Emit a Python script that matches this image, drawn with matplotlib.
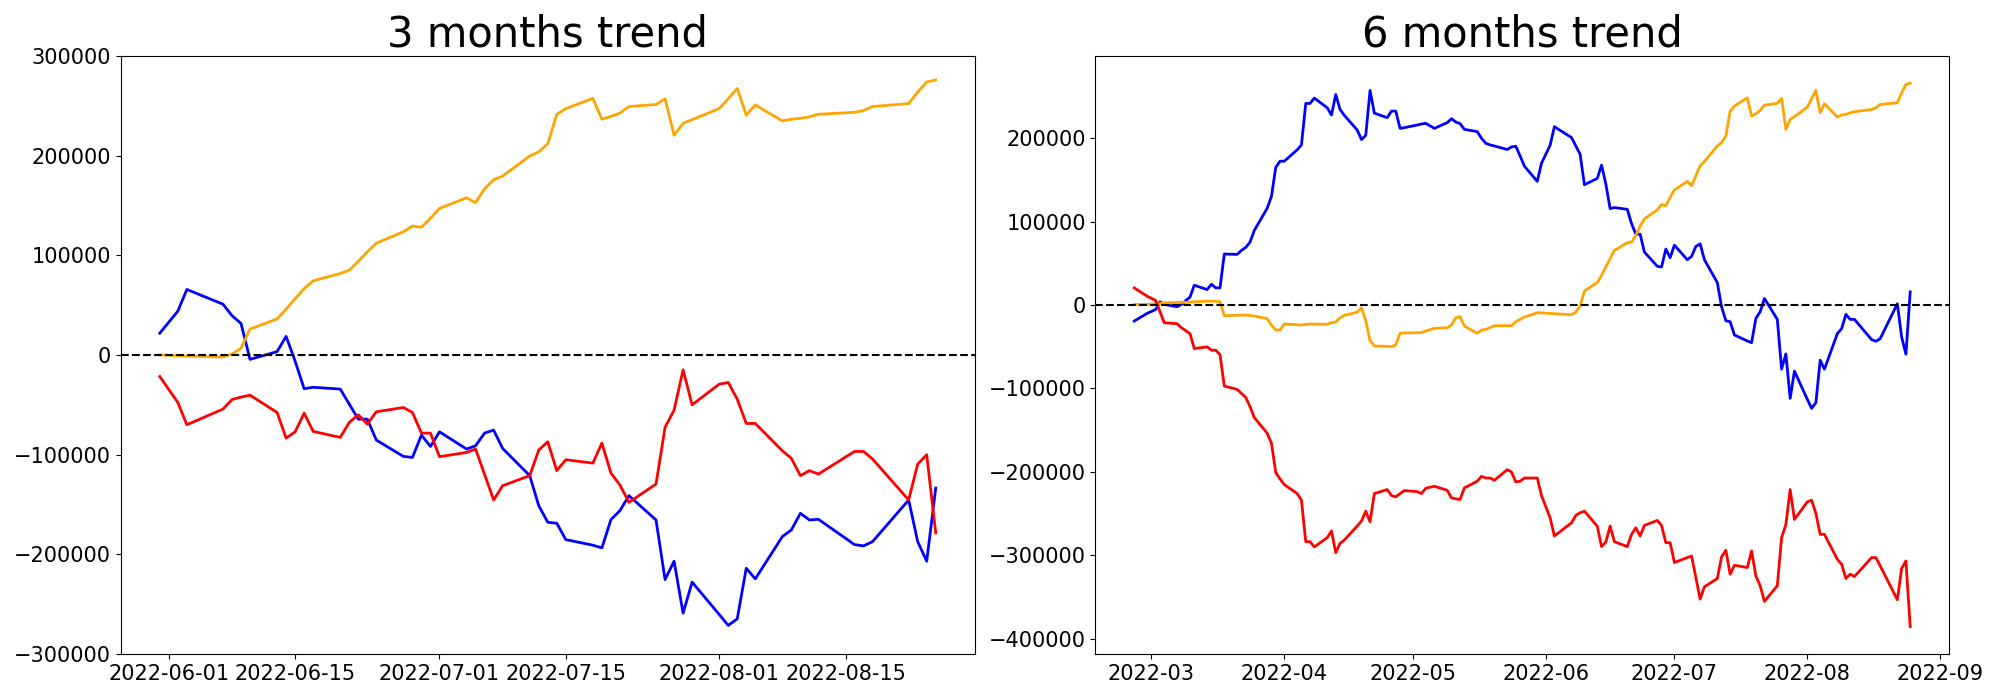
import numpy as np
import pandas as pd
import matplotlib
matplotlib.use("Agg")
import matplotlib.pyplot as plt
import matplotlib.dates as mdates

# Korean market holidays / missing days in the data
holidays = ["2022-03-01", "2022-03-09", "2022-05-05", "2022-06-01",
            "2022-06-06", "2022-08-15", "2022-08-19"]

start_3m, end_3m = "2022-05-31", "2022-08-25"
start_6m, end_6m = "2022-02-25", "2022-08-25"

# values in thousands
blue_3m = [21.8,
           43.9, 65.7,
           50.9, 39.4, 31.6, -4.5,
           3.3, 18.6, -6.3, -33.9, -32.5,
           -34.3, -49.4, -64.5, -64.5, -85.5,
           -101.9, -102.9, -80.5, -91.9, -77.2,
           -94.5, -91.2, -78.5, -75.5, -93.9,
           -121.2, -151.3, -168.0, -169.0, -185.4,
           -191.0, -193.7, -165.3, -156.3, -141.3,
           -165.7, -225.5, -207.1, -259.2, -228.1,
           -260.5, -271.5, -264.9, -214.1, -224.8,
           -182.4, -175.7, -159.0, -165.7, -165.0,
           -190.4, -191.7, -187.4,
           -145.6, -187.4, -207.1, -133.6]

orange_3m = [0.0,
             -0.8, -1.2,
             -2.1, 0.8, 6.6, 25.9,
             36.1, 46.0, 56.3, 66.5, 74.3,
             81.7, 85.0, 94.0, 103.4, 112.1,
             123.6, 129.4, 128.1, 137.2, 147.0,
             157.7, 152.8, 166.7, 175.8, 179.5,
             199.6, 203.7, 211.9, 241.5, 247.2,
             257.5, 236.6, 239.4, 242.7, 249.3,
             251.3, 257.1, 220.5, 232.4, 236.1,
             247.2, 257.1, 267.4, 240.7, 250.9,
             234.9, 236.6, 237.4, 239.0, 241.5,
             243.5, 245.2, 249.3,
             252.2, 263.7, 273.9, 276.0]

red_3m = [-21.7,
          -47.8, -70.1,
          -54.4, -44.8, -42.4, -40.4,
          -57.8, -83.5, -77.2, -58.5, -76.8,
          -82.8, -67.8, -60.1, -69.5, -57.1,
          -52.8, -57.8, -78.5, -78.5, -102.2,
          -97.9, -94.5, -120.0, -145.6, -131.3,
          -121.2, -95.5, -87.2, -116.2, -105.2,
          -108.6, -88.5, -118.6, -130.6, -148.0,
          -129.6, -72.8, -55.4, -15.0, -50.1,
          -29.4, -27.7, -44.4, -68.8, -68.8,
          -96.2, -103.9, -121.2, -116.2, -119.6,
          -96.9, -96.9, -104.5,
          -145.6, -109.6, -100.2, -178.7]

blue_6m = [-19.1, -9.9,
           -5.2, 4.0, 1.0,
           -2.0, 1.0, 9.6, 23.9,
           18.7, 25.1, 20.7, 20.7, 61.3,
           60.9, 65.7, 69.2, 75.6, 89.6,
           116.2, 130.5, 165.2, 172.7, 172.7,
           186.3, 192.2, 242.0, 242.0, 248.4,
           236.8, 228.1, 252.7, 234.8, 227.7,
           210.1, 198.6, 203.8, 257.5, 230.4,
           224.9, 232.8, 232.8, 212.1, 212.9,
           216.1, 217.3, 218.1, 212.1,
           218.9, 223.7, 219.7, 217.7, 210.9,
           208.2, 200.2, 194.2, 192.2, 191.0,
           186.7, 189.8, 190.6, 179.1, 166.8,
           148.5, 170.3,
           191.8, 214.1,
           201.0, 191.0, 181.1, 144.5,
           152.0, 168.0, 145.3, 115.8, 117.0,
           115.0, 97.8, 85.1, 85.1, 63.7,
           46.6, 45.8, 67.3, 56.9, 72.0,
           54.5, 58.5, 70.4, 73.6, 54.5,
           27.1, -2.0, -18.7, -19.9, -35.8,
           -43.0, -45.0, -15.9, -8.0, 8.0,
           -17.1, -76.8, -58.5, -111.8, -79.2,
           -113.0, -123.8, -117.0, -66.1, -76.8,
           -34.2, -28.3, -11.1, -17.1, -17.1,
           -41.4, -43.4, -40.2,
           1.6, -38.2, -58.9, 15.9]

orange_6m = [0.8, 0.8,
             1.6, 2.0, 2.8,
             3.2, 3.2, 3.6, 4.0,
             4.8, 4.8, 4.8, 4.0, -12.7,
             -12.3, -11.9, -11.9, -12.3, -13.1,
             -16.3, -23.9, -29.9, -29.9, -22.7,
             -23.5, -23.9, -23.1, -22.7, -22.7,
             -23.1, -21.1, -20.3, -15.1, -12.3,
             -8.4, -3.2, -18.7, -42.6, -49.0,
             -49.4, -49.8, -47.8, -33.8, -33.4,
             -33.0, -33.0, -31.0, -27.9,
             -27.1, -23.9, -15.1, -13.9, -25.1,
             -33.8, -29.9, -29.1, -27.1, -24.7,
             -24.7, -24.7, -19.9, -17.1, -14.3,
             -9.2, -9.2,
             -10.0, -10.3,
             -11.5, -8.4, -1.2, 17.1,
             27.1, 35.8, 45.8, 55.7, 65.7,
             74.8, 75.6, 83.6, 94.7, 103.5,
             114.2, 120.6, 119.4, 129.4, 138.1,
             148.5, 143.3, 155.2, 167.2, 172.3,
             191.0, 195.0, 203.0, 232.8, 238.8,
             248.8, 226.9, 229.6, 233.6, 240.0,
             242.0, 248.0, 210.9, 222.9, 226.1,
             237.6, 247.6, 257.5, 230.8, 241.6,
             225.7, 228.1, 228.9, 230.8, 232.0,
             234.8, 236.8, 240.8,
             242.8, 254.7, 264.7, 266.3]

red_6m = [20.7, 10.7,
          5.6, -8.0, -21.1,
          -22.3, -27.1, -34.2, -52.1,
          -50.1, -54.1, -54.1, -59.3, -97.1,
          -101.1, -105.9, -110.6, -121.8, -134.9,
          -153.6, -165.6, -200.6, -208.6, -215.3,
          -226.1, -234.0, -283.8, -283.8, -290.1,
          -279.0, -271.0, -296.9, -285.8, -281.8,
          -265.1, -259.1, -247.2, -259.9, -226.1,
          -221.3, -228.5, -230.0, -226.1, -222.5,
          -223.7, -226.1, -219.7, -217.3,
          -222.1, -231.2, -232.4, -233.2, -219.3,
          -211.3, -205.4, -207.4, -207.4, -210.1,
          -197.4, -200.2, -212.1, -211.3, -207.4,
          -207.4, -228.5,
          -255.1, -277.0,
          -261.1, -252.3, -249.1, -247.2,
          -265.1, -289.7, -284.2, -265.1, -283.8,
          -289.7, -275.0, -267.1, -277.0, -264.3,
          -258.3, -264.3, -285.0, -285.0, -308.8,
          -302.9, -300.9, -326.8, -352.6, -337.9,
          -328.0, -302.1, -294.1, -322.8, -312.0,
          -314.8, -294.9, -324.8, -336.7, -355.4,
          -336.7, -279.0, -263.1, -221.3, -257.1,
          -236.0, -234.0, -249.9, -275.0, -275.0,
          -304.9, -310.8, -328.0, -322.8, -325.6,
          -302.9, -302.9, -312.8,
          -353.4, -316.0, -306.9, -385.7]

titles = ["3 months trend", "6 months trend"]


def trading_days(start, end):
    d = pd.bdate_range(start, end)
    return d[~d.isin(pd.to_datetime(holidays))]


dates_3m = trading_days(start_3m, end_3m)
dates_6m = trading_days(start_6m, end_6m)

fig, axes = plt.subplots(1, 2, figsize=(20, 7), dpi=100)
fig.subplots_adjust(left=0.0605, right=0.9745, bottom=0.066, top=0.92, wspace=0.1417)

panels = [(dates_3m, blue_3m, orange_3m, red_3m),
          (dates_6m, blue_6m, orange_6m, red_6m)]

for ax, (d, b, o, r), title in zip(axes, panels, titles):
    ax.plot(d, np.array(b) * 1000, color="blue", lw=2)
    ax.plot(d, np.array(o) * 1000, color="orange", lw=2)
    ax.plot(d, np.array(r) * 1000, color="red", lw=2)
    ax.axhline(0, color="black", linestyle="--", lw=1.5)
    ax.set_title(title, fontsize=30)
    ax.tick_params(labelsize=15)

axes[0].set_ylim(-300000, 300000)
axes[0].yaxis.set_major_locator(plt.MultipleLocator(100000))
axes[0].xaxis.set_major_locator(mdates.DayLocator(bymonthday=[1, 15]))
axes[0].xaxis.set_major_formatter(mdates.DateFormatter("%Y-%m-%d"))
axes[1].xaxis.set_major_locator(mdates.MonthLocator())
axes[1].xaxis.set_major_formatter(mdates.DateFormatter("%Y-%m"))

fig.savefig("out.png", dpi=100)
